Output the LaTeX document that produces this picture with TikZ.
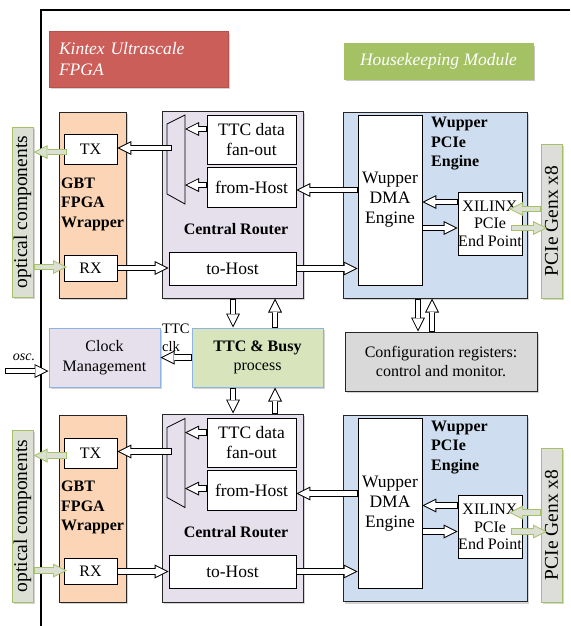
\documentclass[tikz,border=0pt]{standalone}
\usepackage{fontspec}
\setmainfont{Liberation Serif}
\usetikzlibrary{arrows.meta,shadows,calc}
\definecolor{kintexred}{RGB}{204,94,89}
\definecolor{kintexdraw}{RGB}{184,80,76}
\definecolor{housegreen}{RGB}{164,194,100}
\definecolor{optfill}{RGB}{220,224,212}
\definecolor{optdraw}{RGB}{164,194,100}
\definecolor{gbtfill}{RGB}{251,213,181}
\definecolor{routerfill}{RGB}{229,224,236}
\definecolor{wupfill}{RGB}{206,222,240}
\definecolor{bluedraw}{RGB}{141,179,226}
\definecolor{ttcfill}{RGB}{216,228,188}
\definecolor{conffill}{RGB}{217,217,217}
\definecolor{pciefill}{RGB}{221,221,218}

\begin{document}
\begin{tikzpicture}[x=1pt, y=-1pt, font=\fontsize{16}{19.5}\selectfont,
  blk/.style = {draw=black!85, line width=1pt, rectangle, align=center, drop shadow={shadow xshift=2pt, shadow yshift=-2pt, opacity=0.35}},
  box/.style = {draw, rectangle, fill=white, line width=0.8pt, inner sep=0pt, align=center},
  big/.style = {font=\fontsize{17.5}{20}\selectfont},
  lab/.style = {inner sep=0pt, align=left, font=\fontsize{16}{19.5}\selectfont\bfseries},
  arr/.style 2 args = {line width=6.4pt, draw=#1, -{Triangle[length=14pt, width=14pt, line width=0pt]},
    postaction={draw=#2, line width=4.4pt, shorten >=2.24pt, shorten <=1pt, -{Triangle[length=10.8pt, width=10.8pt, line width=0pt]}}},
  harrow/.style = {arr={black}{white}},
  garrow/.style = {arr={optdraw}{optfill}}]
\useasboundingbox (0,0) rectangle (570,626);

\draw[line width=2.7pt] (41,626) -- (41,10) -- (570,10);

\node[blk, fill=kintexred, draw=kintexdraw, minimum width=179pt, minimum height=55pt, text width=159pt, inner xsep=10pt, align=left, text=white, font=\fontsize{17.5}{21}\selectfont\itshape] (kintex) at (138.5,59.5) {Kintex Ultrascale\\FPGA};
\node[blk, fill=housegreen, draw=housegreen, minimum width=189pt, minimum height=35pt, text=white, font=\fontsize{17.5}{21}\selectfont\itshape, drop shadow={opacity=0.15}] (house) at (438.5,61.5) {Housekeeping Module};

% upper link
\node[blk, fill=optfill, draw=optdraw, rotate=90, minimum width=170pt, minimum height=21pt, inner sep=0pt, font=\fontsize{19.5}{20}\selectfont] (opt1) at (22.5,212) {optical components};
\node[blk, fill=gbtfill, minimum width=67pt, minimum height=186pt] (gbt1) at (92.5,205) {};
\node[box, minimum width=53pt, minimum height=30pt] (tx1) at (90.5,149) {TX};
\node[box, minimum width=53pt, minimum height=26pt] (rx1) at (90.5,268) {RX};
\node[lab, anchor=north west] (gbtlab1) at (61,177.5) {GBT\\FPGA\\Wrapper};

\node[blk, fill=routerfill, minimum width=141pt, minimum height=187pt] (router1) at (232.5,204.5) {};
\node[box, big, minimum width=89pt, minimum height=49pt] (fan1) at (251.5,139.5) {TTC data\\fan-out};
\node[box, big, minimum width=89pt, minimum height=40pt] (fromhost1) at (251.5,187) {from-Host};
\node[box, big, minimum width=127pt, minimum height=33pt] (tohost1) at (232.5,268.5) {to-Host};
\node[lab] (routerlab1) at (236,229) {Central Router};
\draw[line width=0.8pt] (167,124) -- (185,115) -- (185,204) -- (167,194) -- cycle;
\coordinate (mux1a) at (185,129);
\coordinate (mux1b) at (185,185);
\coordinate (mux1out) at (172,148);

\node[blk, fill=wupfill, minimum width=184pt, minimum height=186pt] (wup1) at (435,205) {};
\node[box, big, minimum width=64pt, minimum height=170pt] (dma1) at (390,200) {Wupper\\DMA\\Engine};
\node[box, minimum width=64pt, minimum height=63pt, font=\fontsize{16}{17.5}\selectfont] (xil1) at (490,223.5) {XILINX\\PCIe\\End Point};
\node[lab, anchor=north west] (wuplab1) at (431,117) {Wupper\\PCIe\\Engine};
\node[blk, fill=pciefill, draw=optdraw, rotate=90, minimum width=154pt, minimum height=21pt, inner sep=0pt, font=\fontsize{19.5}{20}\selectfont] (pcie1) at (551.5,221) {PCIe Genx x8};
\coordinate (xil1in) at ([yshift=21.5pt]xil1.west);
\coordinate (xil1out) at ([yshift=-4.5pt]xil1.west);
\coordinate (fh1) at ([yshift=-3pt]fromhost1.east);
\coordinate (g1a) at (509,209);
\coordinate (g1b) at (511,228);
\coordinate (g1c) at (547,228);
\coordinate (tx1o) at (67,152);
\coordinate (rx1o) at (67,267);

\draw[harrow] (fan1.west |- mux1a) -- (mux1a);
\draw[harrow] (fromhost1.west |- mux1b) -- (mux1b);
\draw[harrow] (mux1out) -- (mux1out -| tx1.east);
\draw[harrow] (rx1.east) -- (rx1.east -| tohost1.west);
\draw[harrow] (xil1in) -- (xil1in -| dma1.east);
\draw[harrow] (xil1out -| dma1.east) -- (xil1out);
\draw[harrow] (fh1 -| dma1.west) -- (fh1);
\draw[harrow] (tohost1.east) -- (tohost1.east -| dma1.west);
\draw[garrow] (g1a -| pcie1.north) -- (g1a);
\draw[garrow] (g1b) -- (g1c);
\draw[garrow] (tx1o) -- (tx1o -| opt1.south);
\draw[garrow] (rx1o -| opt1.south) -- (rx1o);

% clock, TTC and registers
\node[blk, fill=routerfill, draw=bluedraw, minimum width=111pt, minimum height=59pt] (clock) at (104.5,357.5) {Clock\\Management};
\node[blk, fill=ttcfill, draw=bluedraw, minimum width=131pt, minimum height=59pt] (ttcbusy) at (257.5,357.5) {\textbf{TTC \& Busy}\\process};
\node[blk, fill=conffill, minimum width=192pt, minimum height=59pt] (conf) at (441,361.5) {Configuration registers:\\control and monitor.};
\node[inner sep=0pt, font=\fontsize{14}{16}\selectfont\itshape] (osclab) at (24,357) {osc.};
\node[anchor=north west, align=left, inner sep=0pt, font=\fontsize{14.5}{18}\selectfont] (clklab) at (162,324) {TTC\\clk};
\coordinate (osc) at (5,371);
\coordinate (dn1) at ([xshift=-24.5pt]ttcbusy.north);
\coordinate (up1) at ([xshift=17.5pt]ttcbusy.north);
\coordinate (up2) at ([xshift=-24.5pt]ttcbusy.south);
\coordinate (dn2) at ([xshift=17.5pt]ttcbusy.south);
\coordinate (cdn) at ([xshift=-23pt]conf.north);
\coordinate (cup) at ([xshift=-9pt]conf.north);

\draw[harrow] (osc) -- (osc -| clock.west);
\draw[harrow] (ttcbusy.west) -- (clock.east);
\draw[harrow] (dn1 |- router1.south) -- (dn1);
\draw[harrow] (up1) -- (up1 |- router1.south);
\draw[harrow] (cdn |- wup1.south) -- (cdn);
\draw[harrow] (cup) -- (cup |- wup1.south);

% lower link
\node[blk, fill=optfill, draw=optdraw, rotate=90, minimum width=172pt, minimum height=21pt, inner sep=0pt, font=\fontsize{19.5}{20}\selectfont] (opt2) at (22.5,516) {optical components};
\node[blk, fill=gbtfill, minimum width=67pt, minimum height=187pt] (gbt2) at (92.5,508.5) {};
\node[box, minimum width=53pt, minimum height=30pt] (tx2) at (90.5,453) {TX};
\node[box, minimum width=53pt, minimum height=26pt] (rx2) at (90.5,571.5) {RX};
\node[lab, anchor=north west] (gbtlab2) at (61,481) {GBT\\FPGA\\Wrapper};

\node[blk, fill=routerfill, minimum width=141pt, minimum height=188pt] (router2) at (232.5,508) {};
\node[box, big, minimum width=89pt, minimum height=49pt] (fan2) at (251.5,443) {TTC data\\fan-out};
\node[box, big, minimum width=89pt, minimum height=40pt] (fromhost2) at (251.5,490.5) {from-Host};
\node[box, big, minimum width=127pt, minimum height=33pt] (tohost2) at (232.5,571.5) {to-Host};
\node[lab] (routerlab2) at (236,532.5) {Central Router};
\draw[line width=0.8pt] (167,427.5) -- (185,418.5) -- (185,507.5) -- (167,497.5) -- cycle;
\coordinate (mux2a) at (185,432.5);
\coordinate (mux2b) at (185,488.5);
\coordinate (mux2out) at (172,451.5);

\node[blk, fill=wupfill, minimum width=184pt, minimum height=186pt] (wup2) at (435,508.5) {};
\node[box, big, minimum width=64pt, minimum height=170pt] (dma2) at (390,503.5) {Wupper\\DMA\\Engine};
\node[box, minimum width=64pt, minimum height=63pt, font=\fontsize{16}{17.5}\selectfont] (xil2) at (490,527) {XILINX\\PCIe\\End Point};
\node[lab, anchor=north west] (wuplab2) at (431,420.5) {Wupper\\PCIe\\Engine};
\node[blk, fill=pciefill, draw=optdraw, rotate=90, minimum width=154pt, minimum height=21pt, inner sep=0pt, font=\fontsize{19.5}{20}\selectfont] (pcie2) at (551.5,525) {PCIe Genx x8};
\coordinate (xil2in) at ([yshift=21.5pt]xil2.west);
\coordinate (xil2out) at ([yshift=-4.5pt]xil2.west);
\coordinate (fh2) at ([yshift=-3pt]fromhost2.east);
\coordinate (g2a) at (509,512.5);
\coordinate (g2b) at (511,531.5);
\coordinate (g2c) at (547,531.5);
\coordinate (tx2o) at (67,455.5);
\coordinate (rx2o) at (67,570.5);

\draw[harrow] (fan2.west |- mux2a) -- (mux2a);
\draw[harrow] (fromhost2.west |- mux2b) -- (mux2b);
\draw[harrow] (mux2out) -- (mux2out -| tx2.east);
\draw[harrow] (rx2.east) -- (rx2.east -| tohost2.west);
\draw[harrow] (xil2in) -- (xil2in -| dma2.east);
\draw[harrow] (xil2out -| dma2.east) -- (xil2out);
\draw[harrow] (fh2 -| dma2.west) -- (fh2);
\draw[harrow] (tohost2.east) -- (tohost2.east -| dma2.west);
\draw[garrow] (g2a -| pcie2.north) -- (g2a);
\draw[garrow] (g2b) -- (g2c);
\draw[garrow] (tx2o) -- (tx2o -| opt2.south);
\draw[garrow] (rx2o -| opt2.south) -- (rx2o);

\draw[harrow] (up2) -- (up2 |- router2.north);
\draw[harrow] (dn2 |- router2.north) -- (dn2);
\end{tikzpicture}
\end{document}
